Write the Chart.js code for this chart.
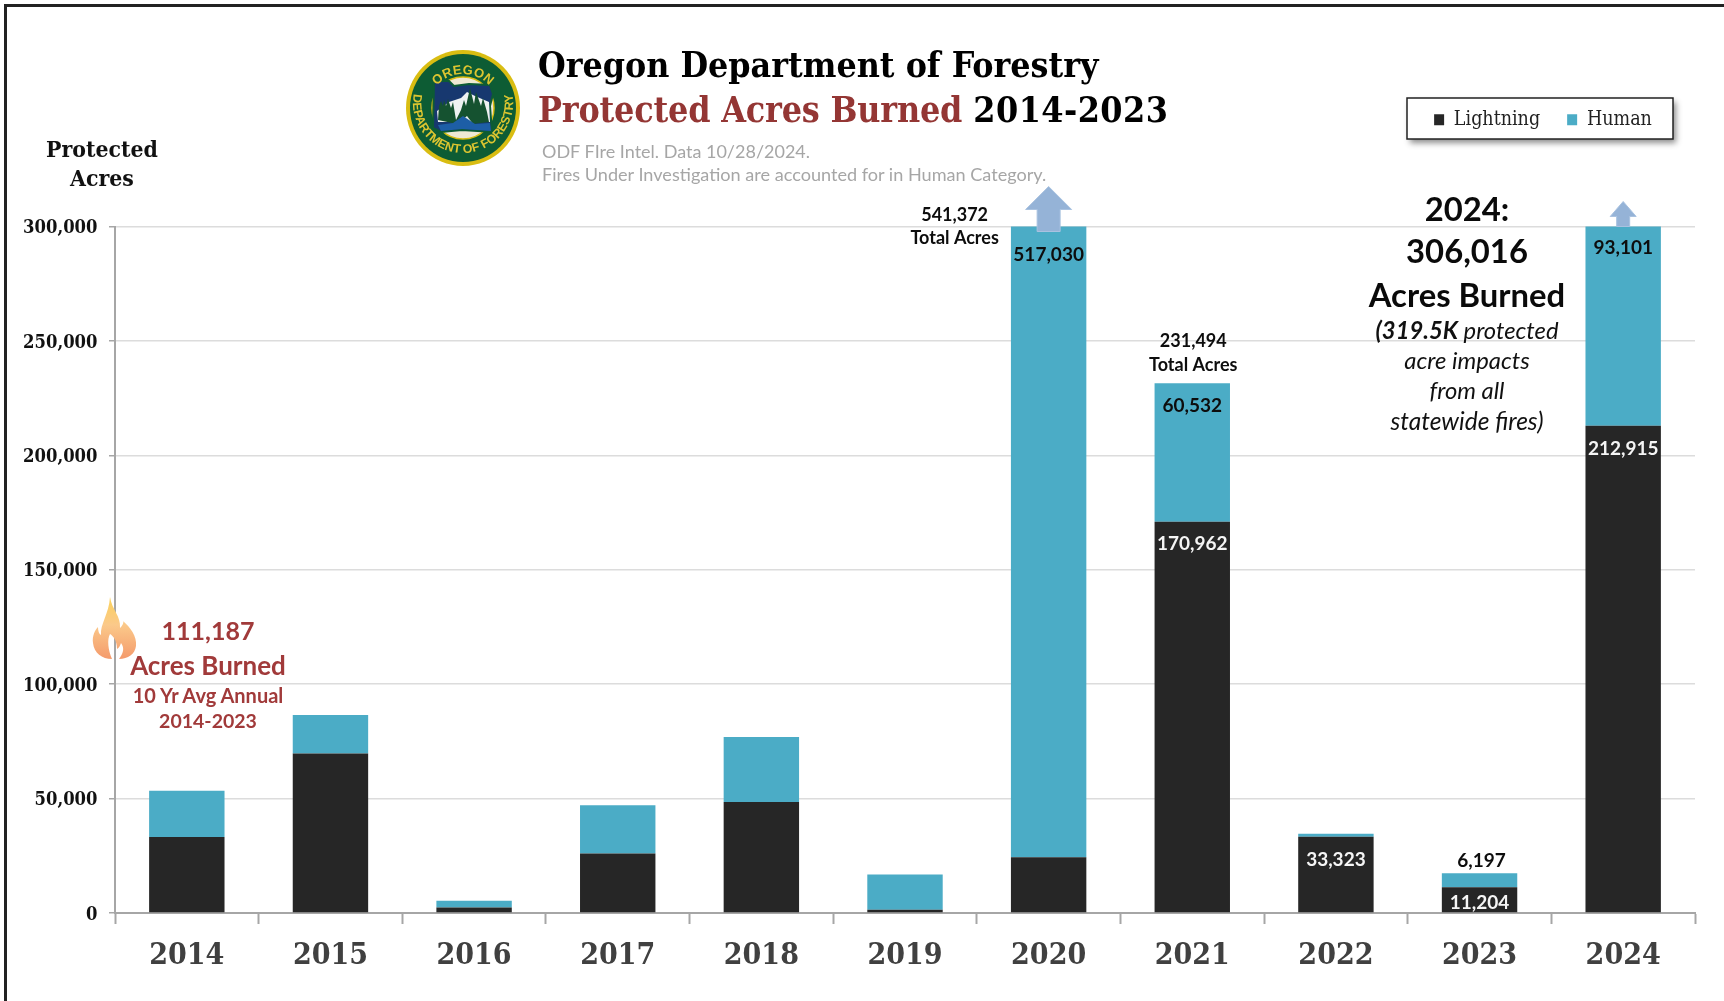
<!DOCTYPE html>
<html><head><meta charset="utf-8">
<style>
html,body{margin:0;padding:0;background:#fff;width:1724px;height:1001px;overflow:hidden}
#wrap{position:relative;width:1724px;height:1001px}
canvas{position:absolute;left:0;top:0}
.t{position:absolute;white-space:nowrap;line-height:1;transform:translateY(-50%)}
.c{transform:translate(-50%,-50%);text-align:center}
.sr{font-family:'DejaVu Serif Condensed','DejaVu Serif',serif;font-weight:700}
.la{font-family:Lato,sans-serif;font-weight:700}
#top{position:absolute;left:4px;top:4px;right:0;height:3px;background:#222}
#left{position:absolute;left:4px;top:4px;width:2.5px;bottom:0;background:#222}
svg{position:absolute}
</style></head><body><div id="wrap">
<canvas id="c" width="1724" height="1001"></canvas>
<div id="top"></div><div id="left"></div>
<svg style="left:405px;top:49px" width="116" height="118" viewBox="-58 -59 116 118">
<defs>
<path id="arcT" d="M -36 2 A 36 36 0 0 1 36 2"/>
<path id="arcB" d="M -49 -15 A 50 50 0 1 0 49 -15"/>
</defs>
<ellipse cx="0" cy="0" rx="57" ry="58" fill="#d9bd12"/>
<ellipse cx="0" cy="0" rx="53" ry="54" fill="#0d5c34"/>
<ellipse cx="0" cy="0" rx="31" ry="31" fill="#efe9d3" stroke="#d9bd12" stroke-width="1.5"/>
<path d="M-29 -27 L-14 -27 L-9 -22 L6 -24 L27 -23 L30 -14 L27 -2 L29 24 L-1 22 L-22 24 L-30 20 Z" fill="#17386f" stroke="#0d5c34" stroke-width="2"/>
<path d="M-26 3 L-14 -6 L-2 -10 L4 -16 L12 -12 L26 -6 L27 14 L-25 14 Z" fill="#eef2f2"/>
<path d="M-25 12 L-24 -2 L-22 -7 L-20 -2 L-19 -8 L-17 -2 L-15 -9 L-12 0 L-10 -6 L-7 12 L-2 2 L1 -8 L3 -2 L7 -20 L11 -4 L13 -16 L18 -2 L20 -10 L24 4 L26 14 L10 16 L4 8 L-6 16 Z" fill="#155230"/>
<path d="M-25 17 L-10 15 L0 8 L12 16 L27 15 L28 23 L-1 21 L-22 23 Z" fill="#1d5ea6"/>
<text font-family="Liberation Sans" font-weight="700" font-size="13" fill="#ddc530" letter-spacing=".3"><textPath href="#arcT" startOffset="50%" text-anchor="middle">OREGON</textPath></text>
<text font-family="Liberation Sans" font-weight="700" font-size="12.3" fill="#ddc530"><textPath href="#arcB" startOffset="50%" text-anchor="middle">DEPARTMENT OF FORESTRY</textPath></text>
</svg>
<div class="t sr" style="left:538px;top:65px;font-size:35.4px;color:#000">Oregon Department of Forestry</div>
<div class="t sr" style="left:538px;top:110px;font-size:35.5px;color:#000"><span style="color:#943634;letter-spacing:-.2px">Protected Acres Burned</span> <span style="letter-spacing:.45px">2014-2023</span></div>
<div class="t" style="left:542px;top:151px;font:18px Lato,sans-serif;color:#a6a6a6">ODF FIre Intel. Data 10/28/2024.</div>
<div class="t" style="left:542px;top:174px;font:18.1px Lato,sans-serif;color:#a6a6a6">Fires Under Investigation are accounted for in Human Category.</div>
<div class="t c sr" style="left:102px;top:149px;font-size:22.8px;color:#111">Protected</div>
<div class="t c sr" style="left:102px;top:178px;font-size:22.8px;color:#111">Acres</div>

<div class="t c la" style="left:1467px;top:208.5px;font-size:32.8px;color:#0a0a0a">2024:</div>
<div class="t c la" style="left:1467px;top:251px;font-size:32.8px;color:#0a0a0a">306,016</div>
<div class="t c la" style="left:1467px;top:294.5px;font-size:32.8px;color:#0a0a0a">Acres Burned</div>
<div class="t c" style="left:1467px;top:330px;font:italic 23.8px Lato,sans-serif;color:#111"><b>(319.5K</b> protected</div>
<div class="t c" style="left:1467px;top:360px;font:italic 23.8px Lato,sans-serif;color:#111">acre impacts</div>
<div class="t c" style="left:1467px;top:390px;font:italic 23.8px Lato,sans-serif;color:#111">from all</div>
<div class="t c" style="left:1467px;top:420px;font:italic 24.5px Lato,sans-serif;color:#111">statewide fires)</div>

<svg style="left:92px;top:596px" width="46" height="64" viewBox="0 0 46 64">
<defs><linearGradient id="fl" x1="0" y1="0" x2="0" y2="1"><stop offset="0" stop-color="#fbd25a"/><stop offset=".45" stop-color="#fbc98a"/><stop offset="1" stop-color="#f49a6c"/></linearGradient></defs>
<path d="M18 1 C20 14 29 20 28 32 C31 29 32 26 31 25 C38 31 45 40 44 50 C43 58 36 63 27 63 C31 58 33 52 29 47 C28 50 27 52 25 53 C25 44 21 40 18 38 C15 43 16 54 20 63 C10 63 2 57 1 47 C0 40 3 34 6 31 C6 35 7 38 9 39 C8 28 17 18 18 1 Z" fill="url(#fl)"/>
</svg>
<div class="t c la" style="left:208px;top:630px;font-size:25px;color:#a13a3a">111,187</div>
<div class="t c la" style="left:208px;top:665px;font-size:26px;color:#a13a3a">Acres Burned</div>
<div class="t c la" style="left:208px;top:695px;font-size:20px;color:#a13a3a">10 Yr Avg Annual</div>
<div class="t c la" style="left:208px;top:721px;font-size:19.5px;color:#a13a3a">2014-2023</div>
</div>
<script src="https://cdn.jsdelivr.net/npm/chart.js@4"></script>
<script>
const years = ['2014','2015','2016','2017','2018','2019','2020','2021','2022','2023','2024'];
const lightning = [33170,69700,2400,26000,48560,1400,24342,170962,33323,11204,212915];
const human = [20200,16800,2900,21100,28340,15400,517030,60532,1300,6197,93101];
const yTicks = [0,50000,100000,150000,200000,250000,300000];
const lightningShown = ['2021','2022','2023','2024'];
const humanShown = ['2020','2021','2023','2024'];
const totalsShown = {'2020':541372,'2021':231494};

const fmt = v => v.toLocaleString('en-US');
const LATO = 'Lato, sans-serif';
const SERIF = "'DejaVu Serif Condensed','DejaVu Serif',serif";

function text(ctx, s, x, y, color, font){
  ctx.fillStyle = color; ctx.font = font; ctx.textAlign='center'; ctx.textBaseline='middle';
  ctx.fillText(s, x, y);
}
function arrow(ctx, cx, top, bottom, headW, shaftW, headBottom){
  ctx.beginPath();
  ctx.moveTo(cx, top);
  ctx.lineTo(cx+headW/2, headBottom);
  ctx.lineTo(cx+shaftW/2, headBottom);
  ctx.lineTo(cx+shaftW/2, bottom);
  ctx.lineTo(cx-shaftW/2, bottom);
  ctx.lineTo(cx-shaftW/2, headBottom);
  ctx.lineTo(cx-headW/2, headBottom);
  ctx.closePath();
  ctx.fillStyle='#95b3d7'; ctx.fill();
  ctx.strokeStyle='#a9c2e0'; ctx.lineWidth=1; ctx.stroke();
}
const frame = {x:1407,y:98,w:266,h:41};
const overlay = {
  id:'overlay',
  afterLayout(chart){
    // the legend is laid out above the plot, then lifted into its framed box
    const l = chart.legend, pad = 27;
    l.left = 1388; l.right = 1698; l.width = l.right-l.left;
    l.top = 121-pad-11; l.bottom = l.top+frame.h+pad; l.height = frame.h+pad;
  },
  beforeDraw(chart){
    const ctx = chart.ctx;
    ctx.save();
    ctx.shadowColor='rgba(0,0,0,.45)'; ctx.shadowBlur=6; ctx.shadowOffsetX=3; ctx.shadowOffsetY=4;
    ctx.fillStyle='#fff'; ctx.fillRect(frame.x,frame.y,frame.w,frame.h);
    ctx.restore();
    ctx.strokeStyle='#222'; ctx.lineWidth=1.5; ctx.strokeRect(frame.x,frame.y,frame.w,frame.h);
  },
  afterDatasetsDraw(chart){
    const ctx = chart.ctx, x = chart.scales.x, y = chart.scales.y, top = chart.chartArea.top;
    const bold = 'bold 19px '+LATO;
    ctx.save();
    const cx = i => x.getPixelForValue(i);
    arrow(ctx, cx(6), top-40, top+5, 46, 23, top-17);
    arrow(ctx, cx(10), top-25, top, 26, 13, top-10);
    years.forEach((yr,i)=>{
      const lTop = y.getPixelForValue(lightning[i]);
      const hTop = Math.max(top, y.getPixelForValue(lightning[i]+human[i]));
      if(lightningShown.includes(yr)){
        const dy = yr==='2023' ? 16 : yr==='2021' ? 22.5 : yr==='2022' ? 23.5 : 23;
        text(ctx, fmt(lightning[i]), cx(i), lTop+dy, '#f5f5f5', bold);
      }
      if(humanShown.includes(yr)){
        const yy = yr==='2023' ? hTop-12 : yr==='2020' ? hTop+28 : yr==='2021' ? hTop+23 : hTop+21;
        const dx = yr==='2023' ? 2 : 0;
        text(ctx, fmt(human[i]), cx(i)+dx, yy, '#0d0d0d', bold);
      }
      if(totalsShown[yr]){
        const shift = yr==='2020' ? -94 : 1;
        const by = yr==='2020' ? top : hTop-30;
        const f = 'bold 18px '+LATO;
        text(ctx, fmt(totalsShown[yr]), cx(i)+shift, by-12+(yr==='2020'?1:0), '#0d0d0d', f);
        text(ctx, 'Total Acres', cx(i)+shift, by+11.5, '#0d0d0d', f);
      }
    });
    ctx.restore();
  }
};
new Chart(document.getElementById('c'),{
  type:'bar',
  data:{labels:years,datasets:[
    {label:'Lightning',data:lightning,backgroundColor:'#262626',stack:'a',categoryPercentage:1,barPercentage:.525},
    {label:'Human',data:human,backgroundColor:'#4bacc6',stack:'a',categoryPercentage:1,barPercentage:.525}
  ]},
  options:{
    responsive:false,animation:false,
    layout:{padding:{left:0,top:170,right:29,bottom:0}},
    plugins:{
      tooltip:{enabled:false},
      title:{display:false},
      legend:{position:'top',align:'center',onClick:null,
        labels:{boxWidth:10,boxHeight:11,padding:27,color:'#222',font:{family:SERIF,size:19.5,weight:'normal'}}}
    },
    scales:{
      x:{stacked:true,
        afterFit(s){s.height=88;},
        border:{color:'#a6a6a6',width:2},
        grid:{display:true,drawOnChartArea:false,offset:true,tickLength:11,tickColor:'#a6a6a6',tickWidth:2},
        ticks:{padding:14.5,color:'#404040',font:{family:SERIF,size:30,weight:'bold'},maxRotation:0,autoSkip:false}
      },
      y:{stacked:true,min:0,max:300000,
        afterBuildTicks(s){s.ticks=yTicks.map(v=>({value:v}));},
        afterFit(s){s.width=115;},
        border:{color:'#a6a6a6',width:2},
        grid:{color:'#dcdcdc',lineWidth:1.5,tickLength:6,tickColor:'#a6a6a6',tickWidth:1.5},
        ticks:{padding:11.5,labelOffset:2,color:'#111',callback:v=>fmt(v),font:{family:SERIF,size:18.3,weight:'bold'}}
      }
    }
  },
  plugins:[overlay]
});
</script>
</body></html>
